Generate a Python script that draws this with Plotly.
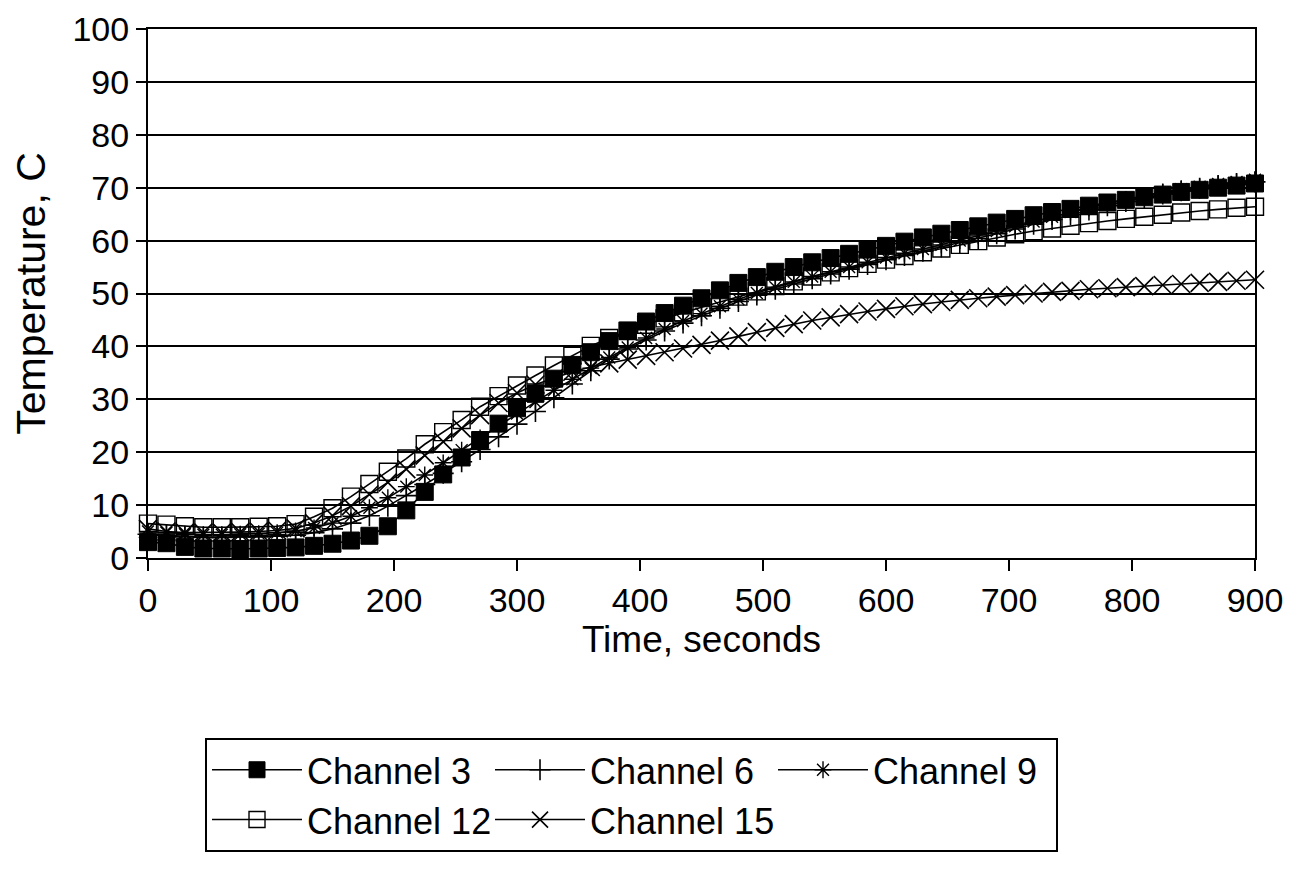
import plotly.graph_objects as go

# ---------------- data ----------------
time_s = list(range(0, 901, 15))

ch3 = [3.0, 2.8, 2.1, 1.8, 1.8, 1.7, 1.8, 1.9, 2.0, 2.3, 2.7, 3.3, 4.2, 6.0, 9.0,
       12.5, 15.8, 19.0, 22.3, 25.4, 28.3, 31.1, 33.9, 36.5, 38.9, 41.0, 43.0, 44.7,
       46.3, 47.7, 49.1, 50.6, 52.0, 53.1, 54.1, 55.0, 55.9, 56.7, 57.5, 58.3, 59.0,
       59.8, 60.6, 61.3, 62.0, 62.7, 63.4, 64.1, 64.8, 65.4, 66.0, 66.6, 67.2, 67.7,
       68.2, 68.7, 69.2, 69.6, 70.0, 70.4, 70.8]

ch6 = [4.5, 4.3, 4.0, 3.9, 3.9, 4.0, 4.0, 4.1, 4.3, 4.8, 5.5, 6.6, 8.0, 9.8, 11.8,
       13.9, 16.0, 18.2, 20.5, 22.9, 25.3, 27.7, 30.3, 32.9, 35.4, 37.6, 39.5, 41.2,
       42.9, 44.4, 45.8, 47.2, 48.5, 49.7, 50.8, 51.8, 52.8, 53.7, 54.6, 55.5, 56.4,
       57.2, 58.0, 58.8, 59.6, 60.4, 61.3, 62.2, 63.1, 64.0, 64.9, 65.8, 66.6, 67.4,
       68.1, 68.8, 69.4, 69.9, 70.4, 70.8, 71.1]

ch9 = [5.0, 4.8, 4.5, 4.4, 4.4, 4.5, 4.6, 4.8, 5.1, 5.7, 6.6, 7.9, 9.5, 11.4, 13.5,
       15.7, 18.0, 20.4, 22.7, 25.0, 27.3, 29.5, 31.7, 33.8, 35.9, 37.9, 39.8, 41.6,
       43.3, 44.8, 46.2, 47.6, 48.9, 50.1, 51.2, 52.2, 53.2, 54.1, 55.0, 55.9, 56.8,
       57.6, 58.4, 59.2, 60.0, 60.9, 61.8, 62.7, 63.6, 64.5, 65.4, 66.2, 67.0, 67.8,
       68.5, 69.1, 69.7, 70.2, 70.7, 71.1, 71.5]

ch12 = [6.5, 6.3, 6.0, 5.8, 5.8, 5.8, 5.9, 6.0, 6.4, 7.8, 9.4, 11.6, 14.0, 16.3, 18.8,
        21.5, 23.8, 26.1, 28.6, 30.6, 32.6, 34.5, 36.4, 38.2, 40.1, 41.6, 42.9, 44.1,
        45.3, 46.4, 47.4, 48.4, 49.4, 50.4, 51.4, 52.3, 53.2, 54.0, 54.8, 55.6, 56.4,
        57.1, 57.8, 58.5, 59.2, 59.9, 60.6, 61.2, 61.8, 62.3, 62.8, 63.3, 63.7, 64.1,
        64.5, 64.9, 65.3, 65.6, 65.9, 66.2, 66.4]

ch15 = [5.5, 5.0, 4.8, 4.8, 4.8, 4.9, 5.0, 5.2, 5.6, 6.6, 8.0, 9.8, 12.0, 14.3, 16.8,
        19.4, 22.0, 24.5, 27.0, 29.3, 31.2, 32.8, 34.0, 35.2, 36.1, 36.8, 37.5, 38.2,
        38.9, 39.6, 40.3, 41.1, 41.9, 42.7, 43.5, 44.2, 44.9, 45.5, 46.1, 46.6, 47.1,
        47.6, 48.0, 48.4, 48.8, 49.1, 49.4, 49.7, 50.0, 50.3, 50.5, 50.8, 51.0, 51.2,
        51.4, 51.6, 51.8, 52.0, 52.2, 52.4, 52.6]

series_names = ["Channel 3", "Channel 6", "Channel 9", "Channel 12", "Channel 15"]
series_values = [ch3, ch6, ch9, ch12, ch15]

x_ticks = [0, 100, 200, 300, 400, 500, 600, 700, 800, 900]
y_ticks = [0, 10, 20, 30, 40, 50, 60, 70, 80, 90, 100]

# ---------------- styles ----------------
marker_styles = [
    dict(symbol="square", size=17, color="black", line=dict(width=1, color="black")),
    dict(symbol="cross-thin-open", size=15, color="black", line=dict(width=1.6, color="black")),
    dict(symbol="asterisk-open", size=14, color="black", line=dict(width=1.4, color="black")),
    dict(symbol="square-open", size=17, color="black", line=dict(width=1.4, color="black")),
    dict(symbol="x-thin-open", size=18, color="black", line=dict(width=1.6, color="black")),
]

FONT = "Liberation Sans, Arial, Helvetica, sans-serif"

fig = go.Figure()
for name, vals, mk in zip(series_names, series_values, marker_styles):
    fig.add_trace(go.Scatter(
        x=time_s, y=vals, name=name, mode="lines+markers",
        line=dict(color="black", width=1.6),
        marker=mk, cliponaxis=False,
    ))

fig.update_layout(
    width=1303, height=882,
    paper_bgcolor="white", plot_bgcolor="white",
    margin=dict(l=140, r=56, t=21, b=332, autoexpand=False),
    font=dict(family=FONT, size=34, color="black"),
    showlegend=True,
    legend=dict(
        orientation="h",
        x=0.0515, xanchor="left",
        y=-0.34, yanchor="top",
        bordercolor="black", borderwidth=2,
        bgcolor="white",
        font=dict(family=FONT, size=36, color="black"),
        entrywidth=178, entrywidthmode="pixels",
        itemwidth=90,
        traceorder="normal",
    ),
    xaxis=dict(
        range=[0, 900], tickmode="array", tickvals=x_ticks,
        ticks="outside", ticklen=11, tickwidth=2, tickcolor="black",
        showline=True, linecolor="black", linewidth=2, mirror=True,
        showgrid=False, zeroline=False,
        tickfont=dict(size=34),
        title=dict(text="Time, seconds", font=dict(size=37), standoff=2),
        automargin=False,
    ),
    yaxis=dict(
        range=[0, 100], tickmode="array", tickvals=y_ticks,
        ticks="outside", ticklen=10, tickwidth=2, tickcolor="black",
        showline=True, linecolor="black", linewidth=2, mirror=True,
        showgrid=True, gridcolor="black", gridwidth=2, zeroline=False,
        tickfont=dict(size=34),
        title=dict(text="Temperature, C", font=dict(size=41), standoff=20),
        automargin=False,
    ),
)

fig.write_html("out.html")
